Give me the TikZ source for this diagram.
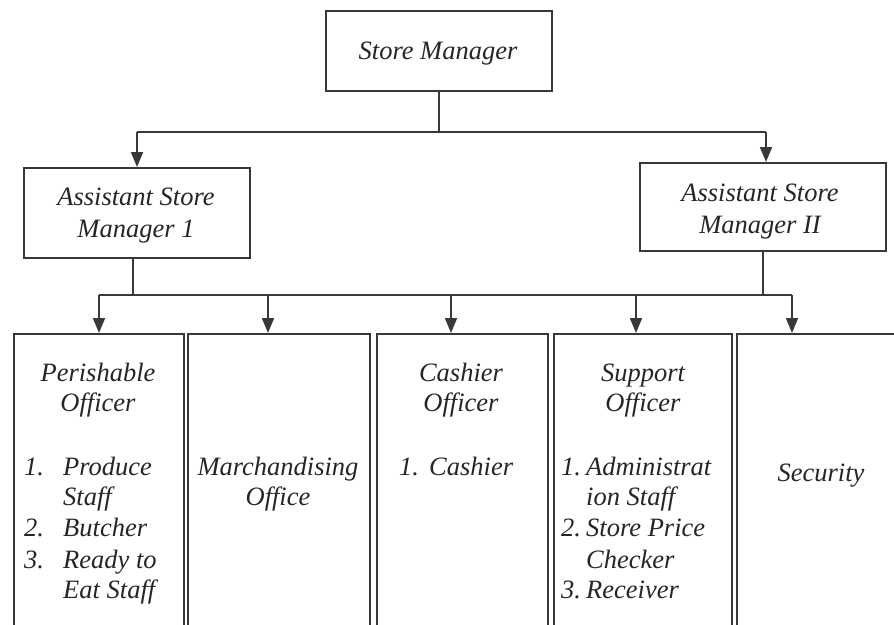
\documentclass[tikz,border=0pt]{standalone}
\usepackage{fontspec}
\setmainfont{Liberation Serif}
\usetikzlibrary{arrows.meta}
\begin{document}
\begin{tikzpicture}[x=1pt,y=-1pt,
  box/.style={draw=black!78,line width=1.8pt,inner sep=0pt,anchor=north west},
  lbl/.style={font=\fontsize{26.5}{31}\selectfont\itshape,text=black!85,inner sep=0pt,anchor=mid},
  lbw/.style={lbl,anchor=mid west},
  conn/.style={draw=black!78,line width=1.8pt},
  arr/.style={conn,-{Triangle[length=15pt,width=12pt]}}]
\clip (0,0) rectangle (894,624);
\fill[white] (0,0) rectangle (894,624);
% boxes
\node[box,minimum width=226pt,minimum height=80pt] (sm) at (325,10) {};
\node[box,minimum width=226pt,minimum height=90pt] (asm1) at (23,167) {};
\node[box,minimum width=246pt,minimum height=88pt] (asm2) at (639,162) {};
\node[box,minimum width=170pt,minimum height=310pt] (b1) at (13,333) {};
\node[box,minimum width=182pt,minimum height=310pt] (b2) at (187,333) {};
\node[box,minimum width=171pt,minimum height=310pt] (b3) at (376,333) {};
\node[box,minimum width=178pt,minimum height=310pt] (b4) at (553,333) {};
\node[box,minimum width=170pt,minimum height=310pt] (b5) at (736,333) {};
% texts
\node[lbl] (tsm) at (438,57) {Store Manager};
\node[lbl] (ta1) at (136,203) {Assistant Store};
\node[lbl] (ta1b) at (136,235) {Manager 1};
\node[lbl] (ta2) at (760,199) {Assistant Store};
\node[lbl] (ta2b) at (760,231) {Manager II};
% box 1
\node[lbl] (p1) at (98,379) {Perishable};
\node[lbl] (p2) at (98,409) {Officer};
\node[lbw] (p3n) at (24,473) {1.};
\node[lbw] (p3) at (63,473) {Produce};
\node[lbw] (p4) at (63,503) {Staff};
\node[lbw] (p5n) at (24,534) {2.};
\node[lbw] (p5) at (63,534) {Butcher};
\node[lbw] (p6n) at (24,566) {3.};
\node[lbw] (p6) at (63,566) {Ready to};
\node[lbw] (p7) at (63,596) {Eat Staff};
% box 2
\node[lbl] (m1) at (278,473) {Marchandising};
\node[lbl] (m2) at (278,503) {Office};
% box 3
\node[lbl] (c1) at (461,379) {Cashier};
\node[lbl] (c2) at (461,409) {Officer};
\node[lbw] (c3n) at (399,473) {1.};
\node[lbw] (c3) at (429,473) {Cashier};
% box 4
\node[lbl] (s1) at (643,379) {Support};
\node[lbl] (s2) at (643,409) {Officer};
\node[lbw] (s3n) at (561,473) {1.};
\node[lbw] (s3) at (586,473) {Administrat};
\node[lbw] (s4) at (586,503) {ion Staff};
\node[lbw] (s5n) at (561,534) {2.};
\node[lbw] (s5) at (586,534) {Store Price};
\node[lbw] (s6) at (586,566) {Checker};
\node[lbw] (s7n) at (561,596) {3.};
\node[lbw] (s7) at (586,596) {Receiver};
% box 5
\node[lbl] (sec) at (821,479) {Security};
% top connectors
\coordinate (jt) at (439,132);
\coordinate (jl) at (137,132);
\coordinate (jr) at (766,132);
\draw[conn] (sm.south -| jt) -- (jt);
\draw[conn] (jl) -- (jr);
\draw[arr] (jl) -- (jl |- asm1.north);
\draw[arr] (jr) -- (jr |- asm2.north);
% lower bus
\coordinate (ja) at (133,295);
\coordinate (jb) at (763,295);
\coordinate (k1) at (99,295);
\coordinate (k2) at (268,295);
\coordinate (k3) at (451,295);
\coordinate (k4) at (636,295);
\coordinate (k5) at (792,295);
\draw[conn] (asm1.south -| ja) -- (ja);
\draw[conn] (asm2.south -| jb) -- (jb);
\draw[conn] (k1) -- (k5);
\draw[arr] (k1) -- (k1 |- b1.north);
\draw[arr] (k2) -- (k2 |- b2.north);
\draw[arr] (k3) -- (k3 |- b3.north);
\draw[arr] (k4) -- (k4 |- b4.north);
\draw[arr] (k5) -- (k5 |- b5.north);
\end{tikzpicture}
\end{document}
